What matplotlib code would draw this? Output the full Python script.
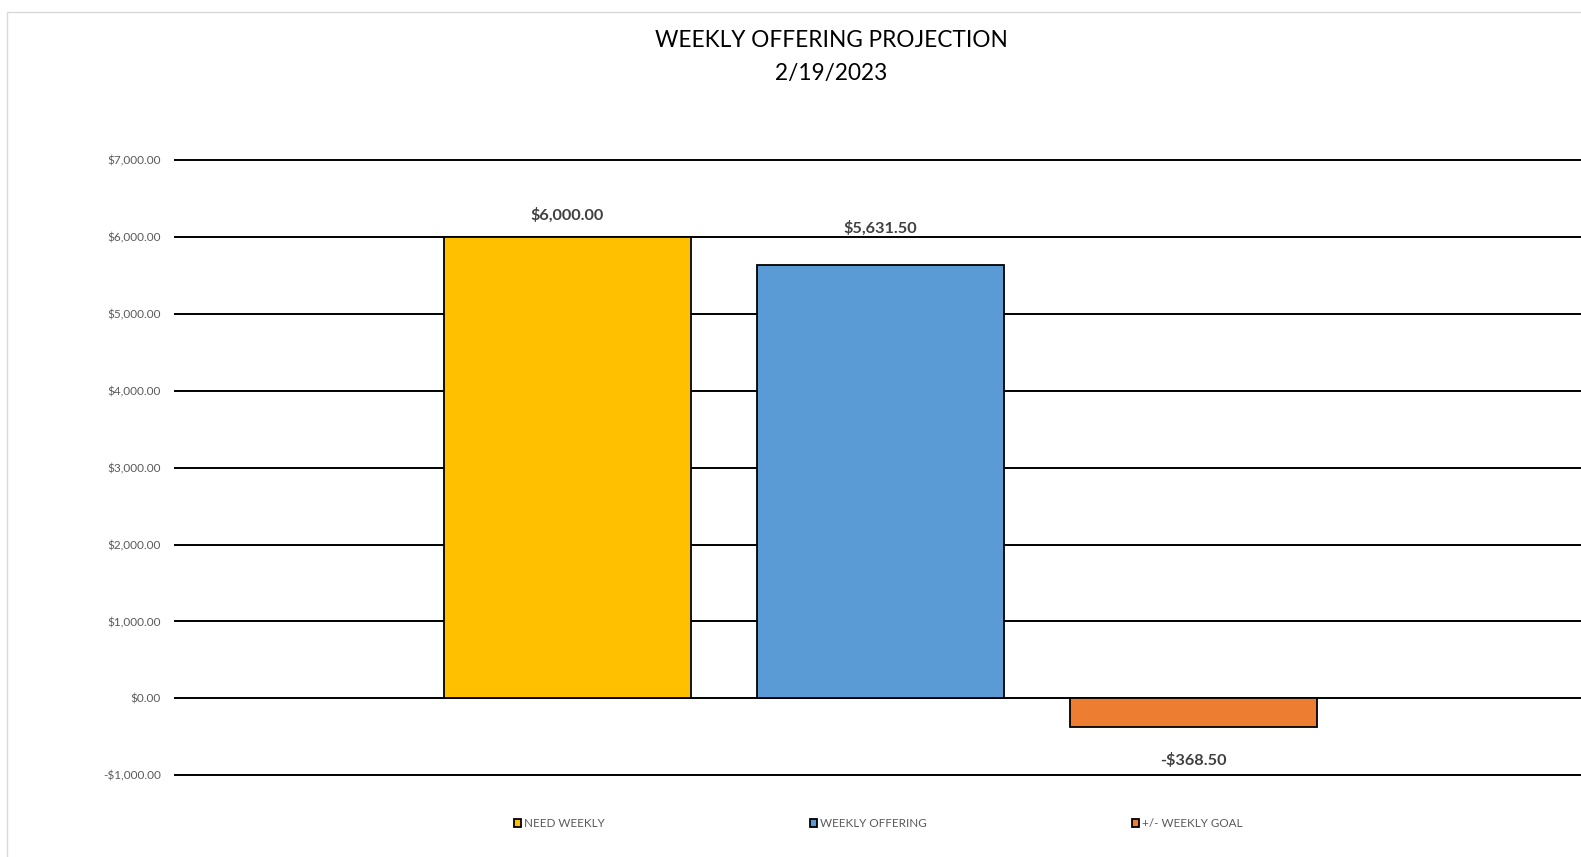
import matplotlib.pyplot as plt
from matplotlib.patches import Rectangle
from matplotlib.ticker import FuncFormatter

# --- DATA ---
series_names = ['NEED WEEKLY', 'WEEKLY OFFERING', '+/- WEEKLY GOAL']
series_values = [6000.00, 5631.50, -368.50]
bar_colors = ['#FFC000', '#5B9BD5', '#ED7D31']
label_offsets_px = [22, 37, -34]   # data labels were nudged by hand in the original
y_ticks = [-1000, 0, 1000, 2000, 3000, 4000, 5000, 6000, 7000]

TITLE = 'WEEKLY OFFERING PROJECTION'
SUBTITLE = '2/19/2023'

# --- FIGURE / LAYOUT (pixels of a 1581x857 canvas) ---
W, H, DPI = 1581, 857, 100
plt.rcParams['font.family'] = ['Lato', 'DejaVu Sans']
fig = plt.figure(figsize=(W / DPI, H / DPI), dpi=DPI)

# chart-area border, clipped at right/bottom as in the screenshot
fig.patches.append(Rectangle((6.5 / W, -0.1), 1.2, 1.1 - 11.5 / H,
                             transform=fig.transFigure, fill=False,
                             edgecolor='#d9d9d9', linewidth=1.0))

# plot area: y=7000 at 160px, y=-1000 at 775.3px; x from 174.3px to 1586.7px
px_top, px_bot = 160.0, 775.3
pad = 150
ppu = (px_bot - px_top) / 8000.0
ax_top = px_top - pad * ppu
ax_bot = px_bot + pad * ppu
ax = fig.add_axes([174.3 / W, 1 - ax_bot / H, 1412.4 / W, (ax_bot - ax_top) / H])
ax.set_ylim(-1000 - pad, 7000 + pad)
ax.set_xlim(-1.256, 3.256)

# --- BARS ---
bars = []
for i, (name, val, col) in enumerate(zip(series_names, series_values, bar_colors)):
    b = ax.bar(i, val, width=0.787, color=col, edgecolor='black', linewidth=1.3,
               label=name, zorder=3)
    bars.append(b)
    off = label_offsets_px[i] * 72.0 / DPI
    ax.annotate(f'-${abs(val):,.2f}' if val < 0 else f'${val:,.2f}',
                xy=(i, val), xytext=(0, off), textcoords='offset points',
                ha='center', va='center', fontsize=11.7, fontweight='bold',
                color='#404040')

# --- AXES STYLE ---
ax.set_yticks(y_ticks)
ax.yaxis.set_major_formatter(FuncFormatter(
    lambda v, p: f'-${abs(v):,.2f}' if v < 0 else f'${v:,.2f}'))
ax.tick_params(axis='y', length=0, pad=9.6, labelsize=8.5, labelcolor='#595959')
ax.set_xticks([])
ax.grid(True, axis='y', color='black', linewidth=1.4, zorder=0)
ax.set_axisbelow(True)
for s in ax.spines.values():
    s.set_visible(False)
ax.patch.set_alpha(0)

# --- TITLE ---
fig.text(831 / W, 1 - 40.3 / H, TITLE, ha='center', va='center', fontsize=16.3, color='black')
fig.text(831 / W, 1 - 73.6 / H, SUBTITLE, ha='center', va='center', fontsize=16.3, color='black')

# --- LEGEND ---
leg = fig.legend(handles=[b[0] for b in bars], labels=series_names, ncol=3,
                 loc='center', bbox_to_anchor=(878 / W, 1 - 823.8 / H),
                 frameon=False, fontsize=8.4, handlelength=0.65, handleheight=0.65,
                 handletextpad=0.2, columnspacing=17.6, borderpad=0)
for t in leg.get_texts():
    t.set_color('#595959')

fig.savefig('out.png', dpi=DPI)
